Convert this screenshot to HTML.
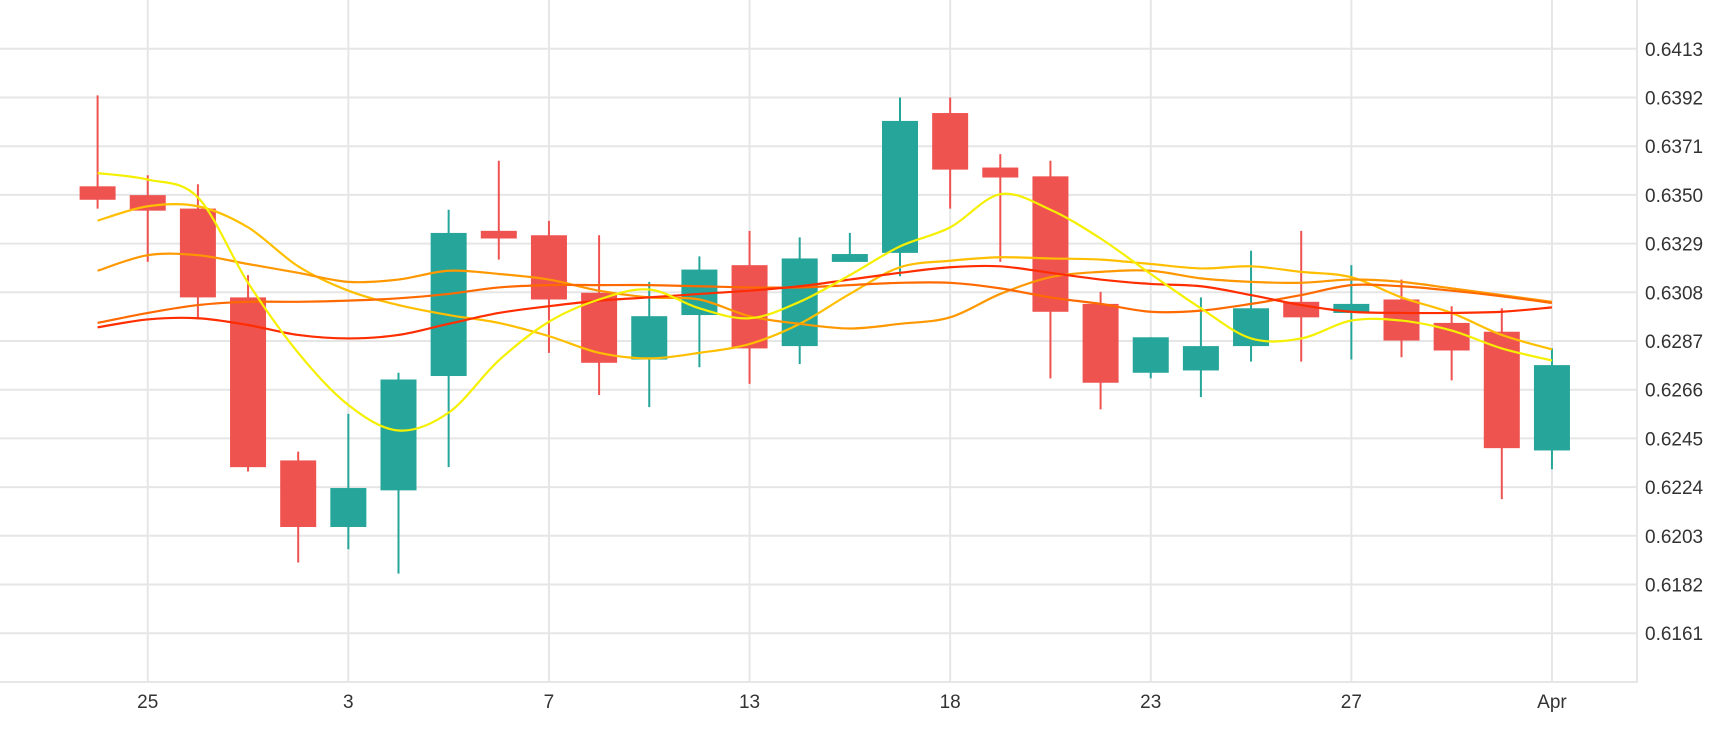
<!DOCTYPE html>
<html><head><meta charset="utf-8"><style>
html,body{margin:0;padding:0;background:#fff;width:1730px;height:730px;overflow:hidden}
svg text{font-family:"Liberation Sans",sans-serif;font-size:19px;fill:#333}
</style></head><body>
<svg id="chart" width="1730" height="730" xmlns="http://www.w3.org/2000/svg"></svg>
<script>
const xLabels = ["25","3","7","13","18","23","27","Apr"];
const xLabelIdx = [1,5,9,13,17,21,25,29];
const yTicks = [0.6413,0.6392,0.6371,0.6350,0.6329,0.6308,0.6287,0.6266,0.6245,0.6224,0.6203,0.6182,0.6161];
const opens  = [.63537,.63499,.63441,.63058,.62355,.62068,.62226,.62719,.63345,.63326,.63078,.62790,.62982,.63197,.62848,.63211,.63250,.63853,.63618,.63580,.63030,.62733,.62743,.62848,.63039,.62991,.63049,.62948,.62910,.62398];
const highs  = [.63929,.63585,.63546,.63154,.62393,.62556,.62733,.63436,.63647,.63388,.63326,.63125,.63235,.63345,.63317,.63336,.63920,.63920,.63676,.63647,.63082,.62886,.63058,.63259,.63345,.63197,.63135,.63020,.63011,.62838];
const lows   = [.63441,.63211,.62963,.62307,.61915,.61972,.61867,.62326,.63221,.62819,.62637,.62585,.62757,.62685,.62771,.63211,.63149,.63441,.63211,.62709,.62575,.62709,.62628,.62781,.62781,.62790,.62800,.62700,.62188,.62317];
const closes = [.63479,.63432,.63058,.62326,.62068,.62236,.62704,.63336,.63312,.63049,.62776,.62977,.63178,.62838,.63226,.63245,.63819,.63609,.63575,.62996,.62690,.62886,.62848,.63011,.62972,.63030,.62872,.62829,.62408,.62766];
const maYellow = [.63594,.63566,.63489,.63121,.62819,.62594,.62484,.62561,.62786,.62953,.63049,.63092,.63011,.62968,.63039,.63154,.63278,.63360,.63503,.63436,.63312,.63159,.63011,.62881,.62881,.62958,.62958,.62915,.62838,.62786];
const maGold = [.63389,.63451,.63451,.63360,.63192,.63087,.63025,.62982,.62948,.62891,.62819,.62795,.62819,.62857,.62944,.63073,.63188,.63216,.63231,.63226,.63221,.63202,.63183,.63192,.63168,.63145,.63058,.62991,.62896,.62834];
const maOrange = [.63173,.63240,.63240,.63202,.63164,.63125,.63135,.63173,.63159,.63135,.63087,.63058,.63049,.62977,.62944,.62924,.62944,.62972,.63073,.63145,.63168,.63173,.63140,.63125,.63121,.63135,.63125,.63097,.63068,.63039];
const maDarkOrange = [.62948,.62991,.63025,.63039,.63039,.63044,.63054,.63073,.63101,.63111,.63111,.63111,.63106,.63101,.63101,.63111,.63121,.63121,.63097,.63058,.63030,.62996,.63001,.63030,.63068,.63111,.63106,.63087,.63063,.63034];
const maRed = [.62929,.62963,.62968,.62939,.62896,.62881,.62896,.62944,.62991,.63020,.63044,.63058,.63073,.63087,.63106,.63135,.63164,.63188,.63192,.63164,.63135,.63116,.63106,.63068,.63025,.62996,.62991,.62991,.62996,.63015];

const NS="http://www.w3.org/2000/svg";
const svg=document.getElementById('chart');
const PR=1637, PB=682;
const xs=i=>97.6+i*50.15;
const ys=v=>48.8+(0.6413-v)/0.0021*48.7;
function mk(t,a,p){const e=document.createElementNS(NS,t);for(const k in a)e.setAttribute(k,a[k]);(p||svg).appendChild(e);return e;}

const grid=mk('g',{});


yTicks.forEach(v=>{
  const l=mk('line',{x1:0,x2:PR,y1:ys(v),y2:ys(v),stroke:'#e6e6e6','stroke-width':2},grid);
  
  
  const t=mk('text',{x:PR+8,y:ys(v)+7});
  t.textContent=v.toFixed(4);
  
  
});
xLabelIdx.forEach((ix,k)=>{
  const l=mk('line',{x1:xs(ix),x2:xs(ix),y1:0,y2:PB,stroke:'#e6e6e6','stroke-width':2},grid);
  
  
  const t=mk('text',{x:xs(ix),y:708,'text-anchor':'middle'});
  t.textContent=xLabels[k];
  
  
});
const ax=mk('path',{d:`M0 ${PB}H${PR}V0`,fill:'none',stroke:'#e6e6e6','stroke-width':2});



const cg=mk('g',{});


opens.forEach((o,i)=>{
  const c=closes[i], up=c>=o, col=up?'#26a69a':'#ef5350', x=xs(i);
  const w=mk('line',{x1:x,x2:x,y1:ys(highs[i]),y2:ys(lows[i]),stroke:col,'stroke-width':2},cg);
  
  
  const top=ys(Math.max(o,c)),bot=ys(Math.min(o,c));
  const r=mk('rect',{x:x-18,y:top,width:36,height:Math.max(1,bot-top),fill:col},cg);
  
  
});

function smooth(arr){
  const p=arr.map((v,i)=>[xs(i),ys(v)]);
  let d=`M${p[0][0]},${p[0][1]}`;
  for(let i=0;i<p.length-1;i++){
    const p0=p[i-1]||p[i],p1=p[i],p2=p[i+1],p3=p[i+2]||p2;
    d+=` C${p1[0]+(p2[0]-p0[0])/6},${p1[1]+(p2[1]-p0[1])/6} ${p2[0]-(p3[0]-p1[0])/6},${p2[1]-(p3[1]-p1[1])/6} ${p2[0]},${p2[1]}`;
  }
  return d;
}
const lines=[[maGold,'#ffbf00','ma-gold'],[maOrange,'#ff9800','ma-orange'],[maDarkOrange,'#ff6a00','ma-dark-orange'],[maRed,'#ff2d00','ma-red'],[maYellow,'#f5f000','ma-yellow']];
lines.forEach(([a,col,n])=>{
  const pth=mk('path',{d:smooth(a),fill:'none',stroke:col,'stroke-width':2.2});
  
  
});
</script>
</body></html>
